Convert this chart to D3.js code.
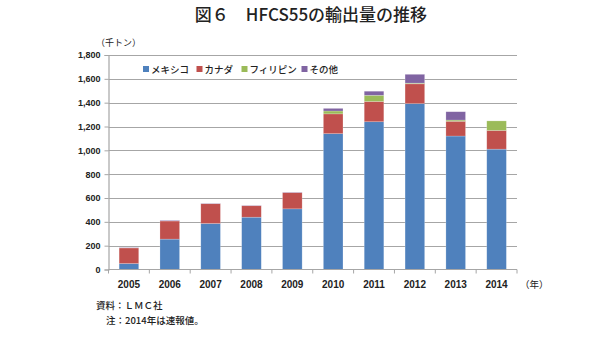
<!DOCTYPE html>
<html><head><meta charset="utf-8">
<script src="https://cdn.jsdelivr.net/npm/d3@7"></script>
<style>
body{margin:0;background:#fff;}
svg{display:block;}
</style></head>
<body>
<svg id="c" width="600" height="352"></svg>
<script>
const years = ["2005","2006","2007","2008","2009","2010","2011","2012","2013","2014"];
const seriesNames = ["メキシコ","カナダ","フィリピン","その他"];
const mexico =      [50, 255, 386, 439, 509, 1140, 1240, 1392, 1120, 1010];
const canada =      [131, 152, 166, 96, 136, 166, 170, 166, 124, 157];
const philippines = [0, 0, 0, 0, 0, 24, 52, 6, 10, 80];
const others =      [3, 5, 3, 3, 3, 22, 34, 74, 70, 0];
const yTicks = [0,200,400,600,800,1000,1200,1400,1600,1800];
const colors = ["#4F81BD","#C0504D","#9BBB59","#8064A2"];

const svg = d3.select("#c");
const L = 108.5, R = 517, T = 55, B = 269.5;
const x = d3.scaleBand().domain(years).range([L, R]).paddingInner(0.52).paddingOuter(0.26);
const y = d3.scaleLinear().domain([0,1800]).range([B, T]);

const font = "'Liberation Sans', Arial, sans-serif";
const jfont = "'Noto Sans CJK JP', sans-serif";

// title
svg.append("text").attr("x", 311).attr("y", 21).attr("text-anchor","middle")
  .attr("font-family", jfont).attr("font-size", 17).attr("font-weight", 500)
  .attr("fill","#222").text("図６　HFCS55の輸出量の推移");

// gridlines
svg.append("g").selectAll("line").data(yTicks.filter(d=>d>0)).join("line")
  .attr("x1", L).attr("x2", R).attr("y1", d=>Math.round(y(d))+0.5).attr("y2", d=>Math.round(y(d))+0.5)
  .attr("stroke","#a6a6a6").attr("stroke-width",1.2);

// stacked data
const table = years.map((yr,i)=>({year:yr, s0:mexico[i], s1:canada[i], s2:philippines[i], s3:others[i]}));
const stack = d3.stack().keys(["s0","s1","s2","s3"])(table);
svg.append("g").selectAll("g").data(stack).join("g").attr("fill",(d,i)=>colors[i])
  .selectAll("rect").data(d=>d).join("rect")
  .attr("x", d=>x(d.data.year)).attr("width", x.bandwidth())
  .attr("y", d=>y(d[1])).attr("height", d=>Math.max(0, y(d[0])-y(d[1])))
  .attr("stroke", "rgba(255,255,255,0.35)").attr("stroke-width", 0.6);

// y axis
const yAxis = d3.axisLeft(y).tickValues(yTicks).tickSize(4).tickPadding(4)
  .tickFormat(d3.format(","));
const ya = svg.append("g").attr("transform",`translate(${L},0)`).call(yAxis);
ya.select(".domain").attr("stroke","#a6a6a6").attr("stroke-width",1.2);
ya.selectAll(".tick line").attr("stroke","#a6a6a6");
ya.selectAll("text").attr("font-family",font).attr("font-size",9).attr("font-weight","bold").attr("fill","#222");

// x axis
const xBound = d3.scaleLinear().domain([0,years.length]).range([L,R]);
const xg = svg.append("g");
xg.append("line").attr("x1",L).attr("x2",R).attr("y1",B).attr("y2",B).attr("stroke","#a6a6a6").attr("stroke-width",1.2);
xg.selectAll("line.t").data(d3.range(years.length+1)).join("line").attr("class","t")
  .attr("x1",d=>xBound(d)).attr("x2",d=>xBound(d)).attr("y1",B).attr("y2",B+4).attr("stroke","#a6a6a6");
xg.selectAll("text").data(years).join("text")
  .attr("x", d=>x(d)+x.bandwidth()/2).attr("y", 288).attr("text-anchor","middle")
  .attr("font-family",font).attr("font-size",10).attr("font-weight","bold").attr("fill","#222").text(d=>d);
svg.append("text").attr("x",520).attr("y",288).attr("font-family",jfont).attr("font-size",9.5).attr("fill","#222").text("（年）");

// unit
svg.append("text").attr("x",96).attr("y",46).attr("font-family",jfont).attr("font-size",9).attr("fill","#222").text("（千トン）");

// legend
const legX = [143, 196.5, 241.5, 301.5];
const lg = svg.append("g").selectAll("g").data(seriesNames).join("g")
  .attr("transform",(d,i)=>`translate(${legX[i]},69)`);
lg.append("rect").attr("x",0).attr("y",-3).attr("width",6).attr("height",6).attr("fill",(d,i)=>colors[i]);
lg.append("text").attr("x",8).attr("y",3.5).attr("font-family",jfont).attr("font-size",9.5).attr("font-weight",500).attr("fill","#222").text(d=>d);

// notes
svg.append("text").attr("x",96).attr("y",309).attr("font-family",jfont).attr("font-size",9.5).attr("font-weight",500).attr("fill","#222").text("資料：ＬＭＣ社");
svg.append("text").attr("x",106).attr("y",324).attr("font-family",jfont).attr("font-size",9.5).attr("font-weight",500).attr("fill","#222").text("注：2014年は速報値。");
</script>
</body></html>
